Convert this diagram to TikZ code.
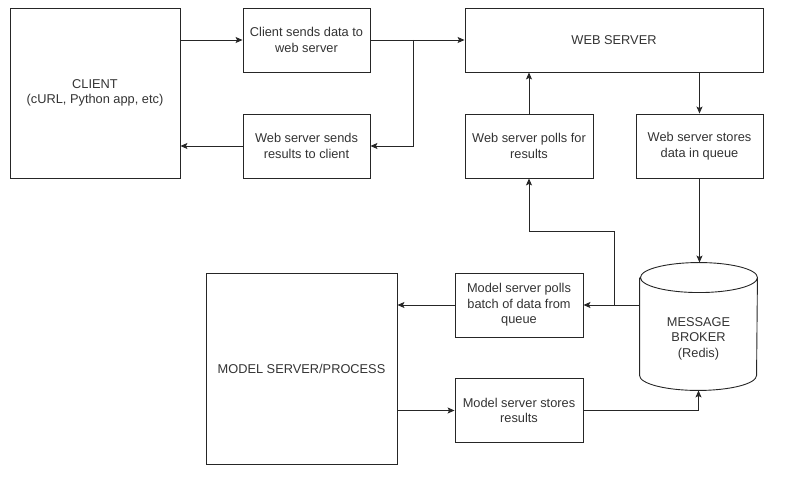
\documentclass[tikz,border=0pt]{standalone}
\usepackage{fontspec}
\setmainfont{Liberation Sans}
\usetikzlibrary{arrows.meta}

\begin{document}
\begin{tikzpicture}[x=1pt,y=-1pt,line width=0.9pt,
  box/.style={draw=black!85, text=black!80, align=center, inner sep=0pt,
    font=\fontsize{12.8}{15.6}\selectfont},
  stepbox/.style={box, minimum width=127pt, minimum height=64pt},
  arr/.style={draw=black!85, -{Stealth[length=7pt,width=6pt,inset=1.5pt]}}]
  \useasboundingbox (0,0) rectangle (793,486);
  % Client side
  \node[box, minimum width=170pt, minimum height=170pt] (client) at (95,93) {CLIENT\\(cURL, Python app, etc)};
  \node[stepbox] (csend) at (306.5,40) {Client sends data to\\web server};
  \node[stepbox] (wsend) at (306.5,146) {Web server sends\\results to client};
  % Web server
  \node[box, minimum width=298pt, minimum height=64pt] (web) at (614,40) {WEB SERVER};
  \node[stepbox, minimum width=128pt] (wpoll) at (529,146) {Web server polls for\\results};
  \node[stepbox] (wstore) at (699.5,146) {Web server stores\\data in queue};
  % Message broker (cylinder)
  \node[minimum width=117pt, minimum height=127pt, inner sep=0pt] (broker) at (698.5,326.5) {};
  \draw[draw=black!85] ([yshift=-15pt]broker.north west) -- ([yshift=15pt]broker.south west)
    arc[start angle=180, end angle=360, x radius=58.5pt, y radius=15pt]
    -- ([yshift=-15pt]broker.north east)
    arc[start angle=0, end angle=360, x radius=58.5pt, y radius=15pt];
  \node[box, draw=none] (brokertext) at ([yshift=-12pt]broker.center) {MESSAGE\\BROKER\\(Redis)};
  % Model server
  \node[box, minimum width=191pt, minimum height=191pt] (model) at (301.5,368.5) {MODEL SERVER/PROCESS};
  \node[stepbox, minimum width=128pt] (mpoll) at (519,305) {Model server polls\\batch of data from\\queue};
  \node[stepbox, minimum width=128pt] (mstore) at (519,410.5) {Model server stores\\results};
  % Connectors
  \coordinate (split) at (413,40);
  \coordinate (join) at (614,305);
  \coordinate (turn) at (614,231);
  \draw[arr] (client.east |- csend.west) -- (csend.west);
  \draw[arr] (csend.east) -- (web.west);
  \draw[arr] (split) |- (wsend.east);
  \draw[arr] (wsend.west) -- (wsend.west -| client.east);
  \draw[arr] (wstore.north |- web.south) -- (wstore.north);
  \draw[arr] (wpoll.north) -- (wpoll.north |- web.south);
  \draw[arr] (wstore.south) -- (wstore.south |- broker.north);
  \draw[arr] (broker.west |- mpoll.east) -- (mpoll.east);
  \draw[arr] (join) -- (turn) -| (wpoll.south);
  \draw[arr] (mpoll.west) -- (mpoll.west -| model.east);
  \draw[arr] (model.east |- mstore.west) -- (mstore.west);
  \draw[arr] (mstore.east) -| (broker.south);
\end{tikzpicture}
\end{document}
